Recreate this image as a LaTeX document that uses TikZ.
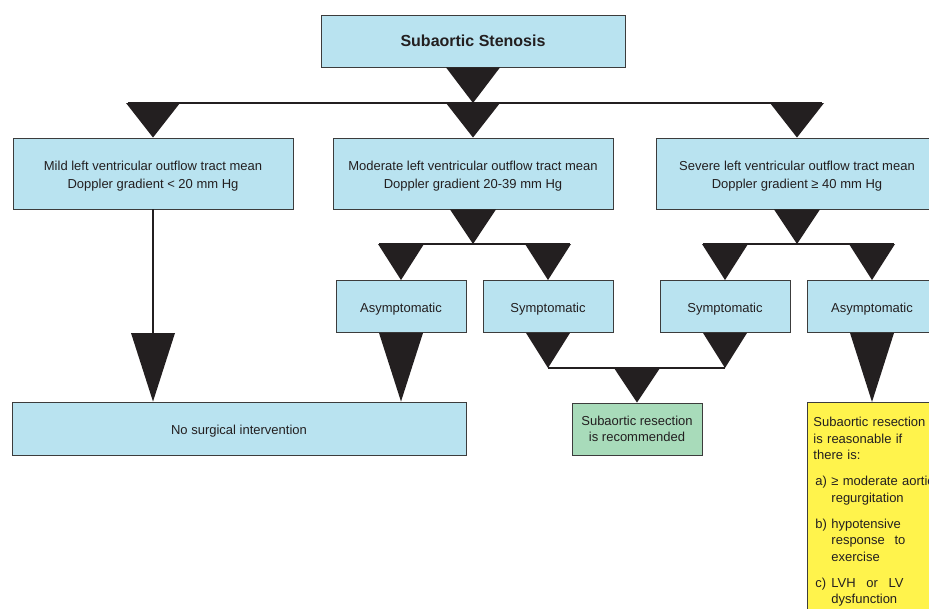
\documentclass[tikz,border=0pt]{standalone}
\usepackage{fontspec}
\setmainfont{Liberation Sans}
\usetikzlibrary{calc}
\definecolor{boxblue}{RGB}{185,227,240}
\definecolor{boxgreen}{RGB}{168,219,186}
\definecolor{boxyellow}{RGB}{255,243,76}
\definecolor{ink}{RGB}{35,31,32}
\definecolor{edgegray}{RGB}{60,60,60}
\newcommand\lowstrut{\rule{0pt}{15pt}}
\tikzset{
  box/.style={draw=edgegray, line width=0.9pt, fill=boxblue, inner sep=0pt,
    align=center, text=ink, font=\fontsize{13}{18}\selectfont},
  smallbox/.style={box, minimum width=130pt, minimum height=52pt},
  widebox/.style={box, minimum height=71pt},
  titlebox/.style={box, minimum width=304pt, minimum height=52pt,
    font=\fontsize{16}{19}\selectfont\bfseries},
  greenbox/.style={smallbox, fill=boxgreen, font=\fontsize{13}{16.5}\selectfont},
  yellowbox/.style={box, fill=boxyellow, align=left, text width=140pt,
    inner xsep=6pt, inner ysep=15pt, font=\fontsize{13}{16.5}\selectfont},
  tri/.style={fill=ink},
  link/.style={draw=ink, line width=1.4pt},
}
\newcommand\downtri[3]{%
  \fill[tri] ($(#2 |- #1)+(-#3,0)$) -- ($(#2 |- #1)+(#3,0)$) -- (#2) -- cycle;}
\begin{document}
\begin{tikzpicture}[x=1pt,y=-1pt]
\useasboundingbox (0,0) rectangle (929,608);
\clip (0,0) rectangle (929,608);

% boxes
\node[titlebox] (title) at (473,41) {Subaortic Stenosis};
\node[widebox, minimum width=280pt] (mild) at (153,173.5)
  {\lowstrut Mild left ventricular outflow tract mean\\Doppler gradient < 20 mm Hg};
\node[widebox, minimum width=280pt] (moderate) at (473,173.5)
  {\lowstrut Moderate left ventricular outflow tract mean\\Doppler gradient 20-39 mm Hg};
\node[widebox, minimum width=282pt] (severe) at (797,173.5)
  {\lowstrut Severe left ventricular outflow tract mean\\Doppler gradient ≥ 40 mm Hg};
\node[smallbox] (asym1) at (401,306.5) {\lowstrut Asymptomatic};
\node[smallbox] (sym1) at (548,306.5) {\lowstrut Symptomatic};
\node[smallbox] (sym2) at (725,306.5) {\lowstrut Symptomatic};
\node[smallbox] (asym2) at (872,306.5) {\lowstrut Asymptomatic};
\node[box, minimum width=454pt, minimum height=53pt] (nosurg) at (239,428.5)
  {\lowstrut No surgical intervention};
\node[greenbox] (recommend) at (637,429)
  {Subaortic resection\\is recommended};
\node[yellowbox, anchor=north west] (reason) at (807,402) {%
Subaortic resection\\
is reasonable if\\
there is:\\[9.5pt]
\hspace*{2pt}\makebox[16pt][l]{a)}≥ moderate aortic\\
\hspace*{18pt}regurgitation\\[9.5pt]
\hspace*{2pt}\makebox[16pt][l]{b)}hypotensive\\
\hspace*{18pt}\makebox[74pt][s]{response\hfill to}\\
\hspace*{18pt}exercise\\[9.5pt]
\hspace*{2pt}\makebox[16pt][l]{c)}\makebox[72pt][s]{LVH\hfill or\hfill LV}\\
\hspace*{18pt}dysfunction};

% junctions
\coordinate (j1) at (473,103);
\coordinate (j2) at (473,244);
\coordinate (j3) at (797,244);
\coordinate (j4) at (548,368);
\coordinate (j5) at (725,368);
\coordinate (m1) at (153,333);
\coordinate (n1) at (mild.south |- nosurg.north);
\coordinate (n2) at (asym1.south |- nosurg.north);
\coordinate (n3) at (asym2.south |- reason.north);

% level 1
\downtri{title.south}{j1}{27}
\draw[link] ($(mild.north |- j1)+(-25,0)$) -- ($(severe.north |- j1)+(25,0)$);
\downtri{j1}{mild.north}{27}
\downtri{j1}{moderate.north}{27}
\downtri{j1}{severe.north}{27}

% moderate branch
\downtri{moderate.south}{j2}{23}
\draw[link] ($(asym1.north |- j2)+(-22,0)$) -- ($(sym1.north |- j2)+(22,0)$);
\downtri{j2}{asym1.north}{23}
\downtri{j2}{sym1.north}{23}

% severe branch
\downtri{severe.south}{j3}{23}
\draw[link] ($(sym2.north |- j3)+(-22,0)$) -- ($(asym2.north |- j3)+(22,0)$);
\downtri{j3}{sym2.north}{23}
\downtri{j3}{asym2.north}{23}

% mild to no surgery
\draw[link] (mild.south) -- (m1);
\downtri{m1}{n1}{22}
\downtri{asym1.south}{n2}{22}

% symptomatic to resection
\downtri{sym1.south}{j4}{22}
\downtri{sym2.south}{j5}{22}
\draw[link] (j4) -- (j5);
\downtri{j4}{recommend.north}{23}

% asymptomatic severe to reasonable
\downtri{asym2.south}{n3}{22}
\end{tikzpicture}
\end{document}
